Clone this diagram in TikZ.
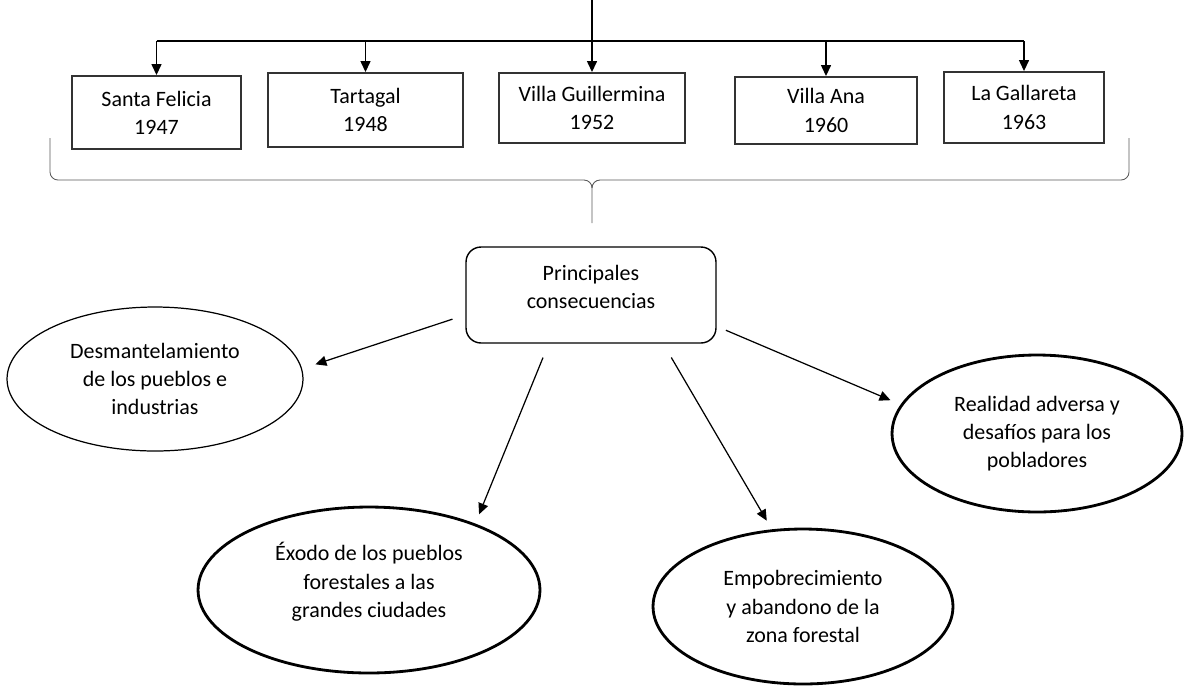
\documentclass[tikz,border=0pt]{standalone}
\usepackage{fontspec}
\setmainfont{Carlito}
\usetikzlibrary{shapes.geometric,arrows.meta}

\begin{document}
\begin{tikzpicture}[x=0.02cm,y=-0.02cm,
    >={Triangle[length=0.22cm,width=0.2cm]},
    every node/.style={font=\fontsize{12.5}{16}\selectfont,align=center,inner sep=0pt},
    town/.style={draw=black!80,line width=1.1pt},
    conseq/.style={draw,ellipse,line width=1.6pt}]
    \useasboundingbox (0,0) rectangle (1185,687);
    %\draw[very thin,gray] (0,0) grid[step=50] (1185,687);

    % pueblos forestales
    \node[town,minimum width=3.38cm,minimum height=1.46cm] (sf) at (156.5,112.5) {Santa Felicia\\1947};
    \node[town,minimum width=3.9cm,minimum height=1.48cm] (tg) at (365.5,110) {Tartagal\\1948};
    \node[town,minimum width=3.72cm,minimum height=1.4cm] (vg) at (592,108) {Villa Guillermina\\1952};
    \node[town,minimum width=3.64cm,minimum height=1.34cm] (va) at (826,110.5) {Villa Ana\\1960};
    \node[town,minimum width=3.2cm,minimum height=1.42cm] (lg) at (1024,107.5) {La Gallareta\\1963};

    \coordinate (feed) at (592,0);
    \coordinate (bar) at (592,41);
    \draw[->,line width=0.8pt] (feed) -- (vg.north);
    \draw[line width=0.8pt] (sf.north |- bar) -- (lg.north |- bar);
    \foreach \t in {sf,tg,va,lg}
        \draw[->,line width=0.8pt] (\t.north |- bar) -- (\t.north);

    % llave
    \draw[black!65,line width=0.5pt] (50,138) -- (50,172) to[out=-90,in=180] (58,180) -- (584,180)
        to[out=0,in=90] (592,188) -- (592,223);
    \draw[black!65,line width=0.5pt] (1129,138) -- (1129,172) to[out=-90,in=0] (1121,180) -- (600,180)
        to[out=180,in=90] (592,188);

    % consecuencias
    \node[draw,rounded corners=0.3cm,line width=0.8pt,minimum width=5cm,minimum height=1.92cm,text depth=9pt] (pc) at (591,295) {Principales\\consecuencias};
    \node[draw,ellipse,line width=0.7pt,minimum width=5.92cm,minimum height=2.88cm] (des) at (155,379) {Desmantelamiento\\de los pueblos e\\industrias};
    \node[conseq,minimum width=6.84cm,minimum height=3.32cm,text depth=11.5pt] (exo) at (369,590) {Éxodo de los pueblos\\forestales a las\\grandes ciudades};
    \node[conseq,minimum width=6cm,minimum height=3.1cm] (emp) at (803,606.5) {Empobrecimiento\\y abandono de la\\zona forestal};
    \node[conseq,minimum width=5.8cm,minimum height=3.14cm] (rea) at (1037,433.5) {Realidad adversa y\\desafíos para los\\pobladores};

    \draw[->,line width=0.7pt,shorten <=0.27cm,shorten >=0.28cm] (pc.189) -- (des.4);
    \draw[->,line width=0.7pt,shorten <=0.3cm,shorten >=0.2cm] (pc.229) -- (exo.32);
    \draw[->,line width=0.7pt,shorten <=0.32cm,shorten >=0.2cm] (pc.326) -- (emp.112);
    \draw[->,line width=0.7pt,shorten <=0.2cm,shorten >=0.22cm] (pc.346) -- (rea.168);
\end{tikzpicture}
\end{document}
